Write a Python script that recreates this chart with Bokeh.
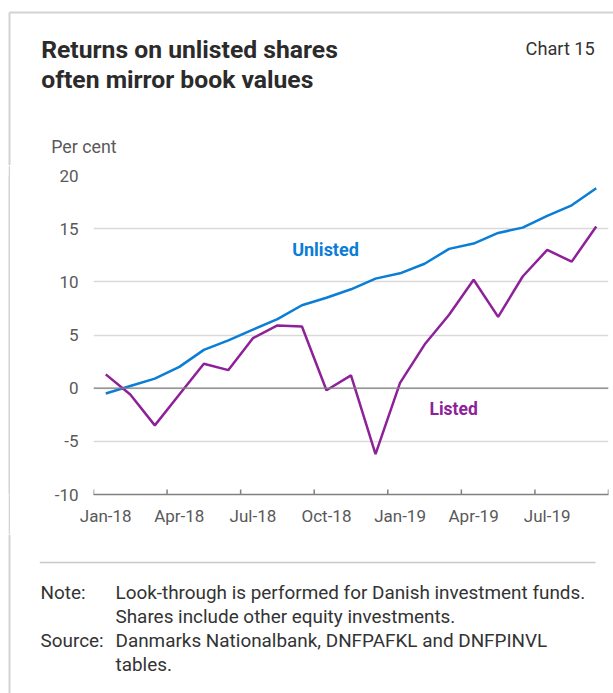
from bokeh.plotting import figure
from bokeh.models import Label, Span, FixedTicker, Range1d, Spacer
from bokeh.layouts import column, row
from bokeh.core.properties import value
from bokeh.embed import file_html
from bokeh.resources import INLINE

# ---- data ----
months = ["Jan-18", "Feb-18", "Mar-18", "Apr-18", "May-18", "Jun-18", "Jul-18",
          "Aug-18", "Sep-18", "Oct-18", "Nov-18", "Dec-18", "Jan-19", "Feb-19",
          "Mar-19", "Apr-19", "May-19", "Jun-19", "Jul-19", "Aug-19", "Sep-19"]
unlisted = [-0.5, 0.2, 0.9, 2.0, 3.6, 4.5, 5.5, 6.5, 7.8, 8.5, 9.3, 10.3, 10.8,
            11.7, 13.1, 13.6, 14.6, 15.1, 16.2, 17.2, 18.8]
listed = [1.3, -0.6, -3.5, -0.6, 2.3, 1.7, 4.7, 5.9, 5.8, -0.2, 1.2, -6.2, 0.5,
          4.1, 6.9, 10.2, 6.7, 10.5, 13.0, 11.9, 15.2]
y_ticks = [-10, -5, 0, 5, 10, 15, 20]
quarter_step = 3

title_lines = ["Returns on unlisted shares", "often mirror book values"]
chart_no = "Chart 15"
unit_label = "Per cent"
note_heads = ["Note:", "", "Source:", ""]
note_lines = ["Look-through is performed for Danish investment funds.",
              "Shares include other equity investments.",
              "Danmarks Nationalbank, DNFPAFKL and DNFPINVL",
              "tables."]

FONT = "Roboto"
BLUE = "#0a7dd6"
PURPLE = "#8e2199"
GRID = "#d9d9d9"
AXIS = "#808080"
TEXT = "#2b2b2b"
TICKTXT = "#595959"
BORDER = "#d3d3d3"

W = 613
H_HEAD = 165
H_MAIN = 369
H_FOOT = 693 - H_HEAD - H_MAIN
PAD = 8      # white space left of the frame border
BW = 2       # frame border width


def blank(width, height, fill="white"):
    f = figure(width=width, height=height, x_range=Range1d(0, width),
               y_range=Range1d(height, 0), min_border=0,
               x_axis_type=None, y_axis_type=None,
               output_backend="svg", toolbar_location=None)
    f.grid.visible = False
    f.outline_line_color = None
    f.background_fill_color = fill
    f.border_fill_color = fill
    return f


def sh(size):
    # rendered alphabetic baseline sits ~0.4em low; compensate
    return 0.4 * size


# ---- header ----
head = blank(W, H_HEAD)
head.segment(x0=[PAD + 1, PAD + 1], y0=[12, 12], x1=[W, PAD + 1], y1=[12, H_HEAD],
             line_color=BORDER, line_width=BW)
head.text(x=[40.7, 40.7], y=[59.3 - sh(24.7), 89.3 - sh(24.7)], text=title_lines,
          text_font=value(FONT), text_font_size="24.7px", text_font_style="bold",
          text_color=TEXT, text_baseline="alphabetic", text_align="left")
head.text(x=[594.3], y=[55 - sh(18.2)], text=[chart_no], text_font=value(FONT),
          text_font_size="18.2px", text_color="#333333",
          text_baseline="alphabetic", text_align="right")
head.text(x=[50.7], y=[153 - sh(17.8)], text=[unit_label], text_font=value(FONT),
          text_font_size="17.8px", text_color=TICKTXT,
          text_baseline="alphabetic", text_align="left")

# ---- left border beside the chart ----
gap = Spacer(width=PAD, height=H_MAIN)
strip = blank(BW, H_MAIN, fill=BORDER)

# ---- main chart ----
x = list(range(len(months)))
p = figure(width=W - PAD - BW, height=H_MAIN,
           x_range=(-0.5, len(months) - 0.5), y_range=(min(y_ticks), max(y_ticks)),
           output_backend="svg", toolbar_location=None,
           min_border_left=83, min_border_right=5,
           min_border_top=10, min_border_bottom=40)
p.outline_line_color = None
p.background_fill_color = "white"
p.border_fill_color = "white"

p.xgrid.visible = False
p.ygrid.ticker = FixedTicker(ticks=y_ticks)
p.ygrid.grid_line_color = GRID
p.ygrid.grid_line_width = 1.3

p.yaxis.ticker = FixedTicker(ticks=y_ticks)
p.yaxis.major_label_overrides = {t: str(t) for t in y_ticks}
p.yaxis.axis_line_color = None
p.yaxis.major_tick_line_color = None
p.yaxis.minor_tick_line_color = None
p.yaxis.major_tick_out = 0
p.yaxis.major_tick_in = 0
p.yaxis.major_label_standoff = 15
p.yaxis.major_label_text_font = FONT
p.yaxis.major_label_text_font_size = "17px"
p.yaxis.major_label_text_color = TICKTXT

qt = list(range(0, len(months), quarter_step))
p.xaxis.ticker = FixedTicker(ticks=qt)
p.xaxis.major_label_overrides = {i: months[i] for i in qt}
p.xaxis.axis_line_color = AXIS
p.xaxis.axis_line_width = 1.5
p.xaxis.major_tick_line_color = None
p.xaxis.minor_tick_line_color = None
p.xaxis.major_tick_out = 0
p.xaxis.major_tick_in = 0
p.xaxis.major_label_standoff = 11
p.xaxis.major_label_text_font = FONT
p.xaxis.major_label_text_font_size = "17px"
p.xaxis.major_label_text_color = TICKTXT

# quarter boundary tick marks pointing up into the plot
bounds = [i - 0.5 for i in range(0, len(months) + 1, quarter_step)]
p.segment(x0=bounds, y0=[min(y_ticks)] * len(bounds), x1=bounds,
          y1=[min(y_ticks) + 0.47] * len(bounds), line_color=AXIS, line_width=1.5)

p.add_layout(Span(location=0, dimension="width", line_color=AXIS, line_width=1.3))

p.line(x, unlisted, line_color=BLUE, line_width=2.5)
p.line(x, listed, line_color=PURPLE, line_width=2.5)

p.add_layout(Label(x=7.6, y=13.0, text="Unlisted", text_font=FONT, text_font_size="18px",
                   text_font_style="bold", text_color=BLUE, text_baseline="middle"))
p.add_layout(Label(x=13.2, y=-1.95, text="Listed", text_font=FONT, text_font_size="17.5px",
                   text_font_style="bold", text_color=PURPLE, text_baseline="middle"))

# ---- footer ----
foot = blank(W, H_FOOT)
foot.segment(x0=[PAD + 1, 39.3], y0=[0, 28], x1=[PAD + 1, 595], y1=[H_FOOT, 28],
             line_color=[BORDER, "#c8c8c8"], line_width=[BW, 1.5])
FS = 18.9
base = [66 - sh(FS), 90 - sh(FS), 114 - sh(FS), 138 - sh(FS)]
foot.text(x=[40] * 4, y=base, text=note_heads, text_font=value(FONT),
          text_font_size=f"{FS}px", text_color="#333333", text_baseline="alphabetic")
foot.text(x=[115] * 4, y=base, text=note_lines, text_font=value(FONT),
          text_font_size=f"{FS}px", text_color="#333333", text_baseline="alphabetic")

layout = column(head, row(gap, strip, p, spacing=0), foot, spacing=0)
open("out.html", "w").write(file_html(layout, INLINE))
